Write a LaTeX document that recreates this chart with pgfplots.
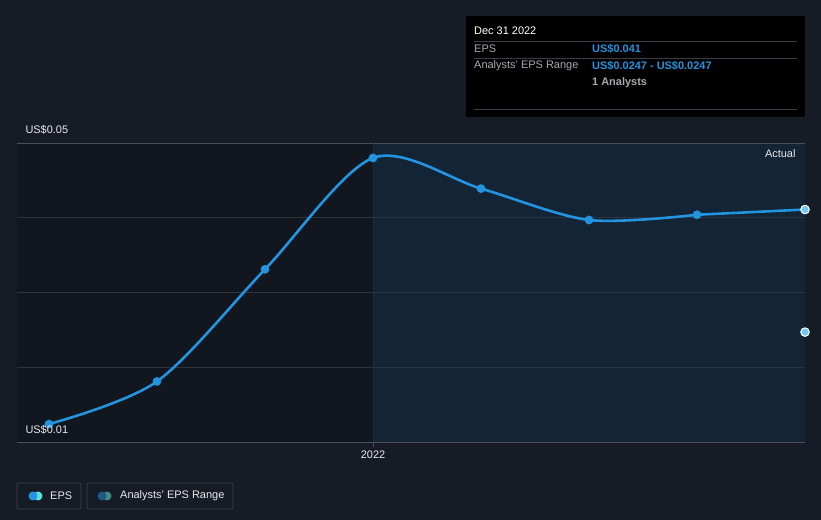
\documentclass[border=0pt]{standalone}
\usepackage{pgfplots}
\pgfplotsset{compat=1.18}
\usepackage{fontspec}
\setmainfont{Liberation Sans}
\definecolor{bg}{HTML}{161B25}
\definecolor{leftbg}{HTML}{12161E}
\definecolor{rightbg}{HTML}{122436}
\definecolor{grid}{HTML}{2E343E}
\definecolor{base}{HTML}{4A4F58}
\definecolor{divider}{HTML}{1E2733}
\definecolor{tipline}{HTML}{3A3D42}
\definecolor{epsblue}{HTML}{2394DF}
\definecolor{epscyan}{HTML}{5CE0D8}
\definecolor{lightblue}{HTML}{6FCBF5}
\definecolor{anblue}{HTML}{1E5A86}
\definecolor{anteal}{HTML}{3F8A87}
\definecolor{txtgrey}{HTML}{A6A9AE}
\definecolor{txtwhite}{HTML}{E8E9EB}
\definecolor{boxline}{HTML}{3C4049}
\begin{document}
\begin{tikzpicture}[x=1bp,y=1bp]
\fill[bg] (0,0) rectangle (821,520);
\begin{axis}[
  at={(17bp,78bp)}, anchor=south west,
  scale only axis, width=788bp, height=299bp,
  xmin=-3.296, xmax=4, ymin=0.01, ymax=0.05,
  axis line style={draw=none},
  ytick=\empty, xtick=\empty,
  tick style={draw=none},
]
\fill[leftbg] (axis cs:-3.296,0.01) rectangle (axis cs:0,0.05);
\fill[rightbg] (axis cs:0,0.01) rectangle (axis cs:4,0.05);
\draw[grid, line width=0.8pt] (axis cs:-3.296,0.02) -- (axis cs:4,0.02);
\draw[grid, line width=0.8pt] (axis cs:-3.296,0.03) -- (axis cs:4,0.03);
\draw[grid, line width=0.8pt] (axis cs:-3.296,0.04) -- (axis cs:4,0.04);
\draw[color=base, line width=0.8pt] (axis cs:-3.296,0.05) -- (axis cs:4,0.05);
\draw[color=divider, line width=0.8pt] (axis cs:0,0.01) -- (axis cs:0,0.05);
\addplot[color=epsblue, line width=2.6pt, smooth, tension=0.5, mark=none]
  coordinates {(-3,0.0124) (-2,0.0181) (-1,0.0331) (0,0.0480) (1,0.0439) (2,0.0397) (3,0.0404)};
\addplot[color=epsblue, line width=2.6pt] coordinates {(3,0.0404) (4,0.0411)};
\addplot[only marks, mark=*, mark size=4.3pt, mark options={fill=epsblue, draw=epsblue, line width=0.1pt}]
  coordinates {(-3,0.0124) (-2,0.0181) (-1,0.0331) (0,0.0480) (1,0.0439) (2,0.0397) (3,0.0404)};
\addplot[only marks, mark=*, mark size=4.3pt, mark options={fill=lightblue, draw=white, line width=1pt}]
  coordinates {(4,0.0411) (4,0.0247)};
\end{axis}
\draw[color=base, line width=0.8pt] (17,78) -- (805,78);
\draw[color=base, line width=1pt] (373,78) -- (373,73);
% labels
\node[anchor=west, text=txtwhite, font=\fontsize{11}{13}\selectfont] at (22,390) {US\$0.05};
\node[anchor=west, text=txtwhite, font=\fontsize{11}{13}\selectfont] at (22,90) {US\$0.01};
\node[anchor=east, text=txtwhite, font=\fontsize{11}{13}\selectfont] at (799,366) {Actual};
\node[text=txtwhite, font=\fontsize{11}{13}\selectfont] at (373,65) {2022};
% tooltip
\fill[black] (466,403) rectangle (805,504);
\node[anchor=west, text=white, font=\fontsize{11}{13}\selectfont, inner sep=0] at (474,489) {Dec 31 2022};
\draw[color=tipline, line width=0.7pt] (474,479) -- (797,479);
\node[anchor=west, text=txtgrey, font=\fontsize{11}{13}\selectfont, inner sep=0] at (474,471) {EPS};
\node[anchor=west, text=epsblue, font=\bfseries\fontsize{11}{13}\selectfont, inner sep=0] at (592,471) {US\$0.041};
\draw[color=tipline, line width=0.7pt] (474,462) -- (797,462);
\node[anchor=west, text=txtgrey, font=\fontsize{11}{13}\selectfont, inner sep=0] at (474,454) {Analysts' EPS Range};
\node[anchor=west, text=epsblue, font=\bfseries\fontsize{11}{13}\selectfont, inner sep=0] at (592,454) {US\$0.0247 - US\$0.0247};
\node[anchor=west, text=txtgrey, font=\bfseries\fontsize{11}{13}\selectfont, inner sep=0] at (592,437) {1 Analysts};
\draw[color=tipline, line width=0.7pt] (474,411) -- (797,411);
% legend
\draw[boxline, line width=0.8pt, rounded corners=2] (17,11) rectangle (81,37);
\fill[epscyan] (38,24) circle (4.5);
\fill[epsblue] (33,24) circle (4.5);
\node[anchor=west, text=txtwhite, font=\fontsize{11}{13}\selectfont, inner sep=0] at (50,24) {EPS};
\draw[boxline, line width=0.8pt, rounded corners=2] (87,11) rectangle (233,37);
\fill[anteal] (107,24) circle (4.5);
\fill[anblue] (102,24) circle (4.5);
\node[anchor=west, text=txtwhite, font=\fontsize{11}{13}\selectfont, inner sep=0] at (120,24) {Analysts' EPS Range};
\end{tikzpicture}
\end{document}
